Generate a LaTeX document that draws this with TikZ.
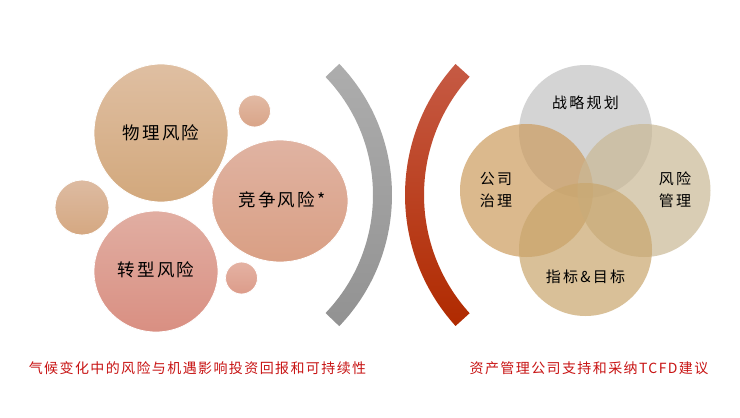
\documentclass[tikz,border=0pt]{standalone}
\usepackage{fontspec}
\setmainfont{Noto Sans CJK SC}
\newfontfamily\cjk[LetterSpace=12]{Noto Sans CJK SC}
\newfontfamily\cjkv[LetterSpace=15]{Noto Sans CJK SC}
\newfontfamily\cjkcap[LetterSpace=10]{Noto Sans CJK SC}
\usetikzlibrary{shapes.geometric}
\definecolor{capred}{HTML}{C81414}
\definecolor{vgray}{HTML}{C3C3C3}
\definecolor{vgov}{HTML}{CC9C5E}
\definecolor{vrisk}{HTML}{CAB895}
\definecolor{vmet}{HTML}{C9A66D}
\definecolor{physT}{HTML}{DFBFA2}\definecolor{physB}{HTML}{D2A87C}
\definecolor{smtT}{HTML}{E2BAA4}\definecolor{smtB}{HTML}{D9A488}
\definecolor{compT}{HTML}{E0B3A2}\definecolor{compB}{HTML}{D99F84}
\definecolor{smlT}{HTML}{DDBBA2}\definecolor{smlB}{HTML}{D5A881}
\definecolor{tranT}{HTML}{E1AEA2}\definecolor{tranB}{HTML}{D98F82}
\definecolor{smbT}{HTML}{E4B2A3}\definecolor{smbB}{HTML}{DC9C8A}
\definecolor{arcgT}{HTML}{ADADAD}\definecolor{arcgB}{HTML}{929292}
\definecolor{arcrT}{HTML}{C65A44}\definecolor{arcrM}{HTML}{BA3403}\definecolor{arcrB}{HTML}{B02A00}
\tikzset{
  bubble/.style={ellipse, inner sep=0pt, draw=white, line width=0.8pt},
  venn/.style={circle, inner sep=0pt, minimum size=133pt, fill opacity=0.7, draw=none},
  blabel/.style={font=\cjk\fontsize{17.5}{20}\selectfont, text=black},
  vlabel/.style={font=\cjkv\fontsize{15}{22}\selectfont, text=black, align=center},
  caption/.style={font=\cjkcap\fontsize{14}{16}\selectfont, text=capred}
}
\begin{document}
\begin{tikzpicture}[x=1pt,y=-1pt]
\useasboundingbox (0,0) rectangle (740,418);
\fill[white] (0,0) rectangle (740,418);

% left bubbles
\node[bubble, minimum width=134pt, minimum height=138pt, top color=physT, bottom color=physB] (phys) at (161,133) {};
\node[bubble, minimum width=32pt, minimum height=32pt, top color=smtT, bottom color=smtB] (smtop) at (254.5,111) {};
\node[bubble, minimum width=136pt, minimum height=122pt, top color=compT, bottom color=compB] (comp) at (280,201) {};
\node[bubble, minimum width=54pt, minimum height=55pt, top color=smlT, bottom color=smlB] (smleft) at (82,207.5) {};
\node[bubble, minimum width=124pt, minimum height=121pt, top color=tranT, bottom color=tranB] (trans) at (156,271.5) {};
\node[bubble, minimum width=32pt, minimum height=32pt, top color=smbT, bottom color=smbB] (smbot) at (241.5,278) {};

\node[blabel] (tphys) at (161,133) {物理风险};
\node[blabel] (tcomp) at (282,200) {竞争风险*};
\node[blabel] (ttrans) at (156,270) {转型风险};

% arcs
\shade[top color=arcgT, bottom color=arcgB]
  ([shift={(202.5,195)}]-43.8:189.5) arc[start angle=-43.8, end angle=43.8, radius=189.5]
  -- ([shift={(202.5,195)}]43.8:170.5) arc[start angle=43.8, end angle=-43.8, radius=170.5] -- cycle;
\shade[top color=arcrT, middle color=arcrM, bottom color=arcrB]
  ([shift={(600,195)}]137.8:195) arc[start angle=137.8, end angle=222.2, radius=195]
  -- ([shift={(600,195)}]222.2:176) arc[start angle=222.2, end angle=137.8, radius=176] -- cycle;

% venn
\node[venn, fill=vgray] (strat) at (585.5,131.5) {};
\node[venn, fill=vgov] (gov) at (526.5,190.5) {};
\node[venn, fill=vrisk] (risk) at (644,190.5) {};
\node[venn, fill=vmet] (met) at (585.5,249.5) {};

\node[vlabel] (tstrat) at (585.5,103) {战略规划};
\node[vlabel] (tgov) at (496,190) {公司\\治理};
\node[vlabel] (trisk) at (675,190) {风险\\管理};
\node[vlabel] (tmet) at (585.5,277) {指标\&目标};

% captions
\node[caption] (capL) at (197.5,368) {气候变化中的风险与机遇影响投资回报和可持续性};
\node[caption] (capR) at (589,368) {资产管理公司支持和采纳TCFD建议};
\end{tikzpicture}
\end{document}
